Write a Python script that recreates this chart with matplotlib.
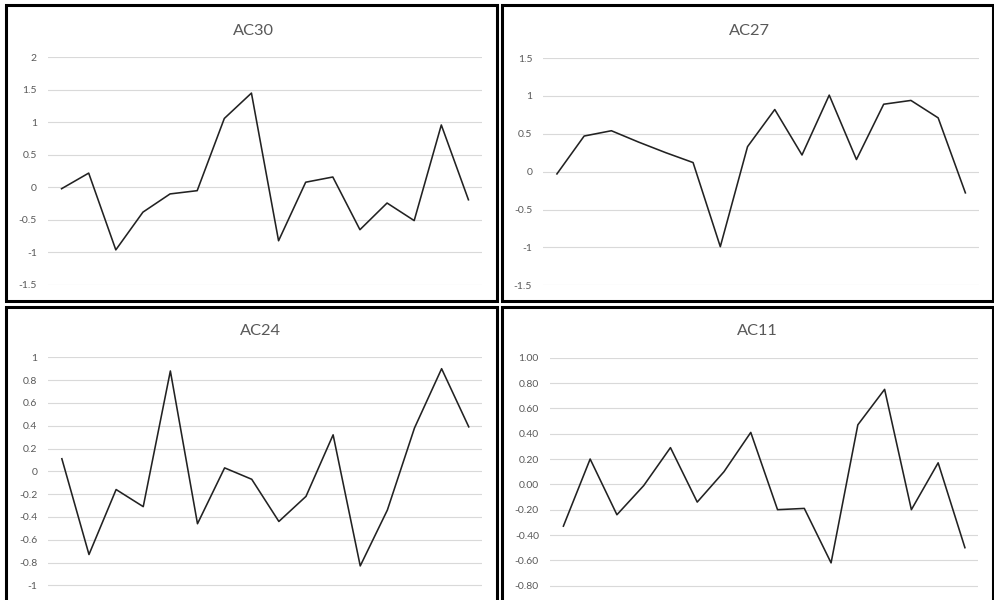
import numpy as np
import matplotlib
matplotlib.use("Agg")
import matplotlib.pyplot as plt
from matplotlib.patches import Rectangle
from matplotlib.ticker import FuncFormatter

plt.rcParams['font.family'] = ['Lato', 'DejaVu Sans']

W, H = 995, 600

# autocorrelation series, 16 lags each
ac30 = [-0.02, 0.22, -0.96, -0.38, -0.10, -0.05, 1.06, 1.45,
        -0.82, 0.08, 0.16, -0.65, -0.24, -0.51, 0.96, -0.19]
ac27 = [-0.03, 0.47, 0.54, 0.39, 0.25, 0.12, -0.99, 0.33,
        0.82, 0.22, 1.01, 0.16, 0.89, 0.94, 0.71, -0.28]
ac24 = [0.11, -0.73, -0.16, -0.31, 0.88, -0.46, 0.03, -0.07,
        -0.44, -0.22, 0.32, -0.83, -0.34, 0.38, 0.90, 0.39]
ac11 = [-0.33, 0.20, -0.24, -0.01, 0.29, -0.14, 0.10, 0.41,
        -0.20, -0.19, -0.62, 0.47, 0.75, -0.20, 0.17, -0.50]

titles = ["AC30", "AC27", "AC24", "AC11"]

GRID = "#d9d9d9"
TEXT = "#595959"

fig = plt.figure(figsize=(W / 100, H / 100), dpi=100)


def px_box(left, top, right, bottom):
    # pixel edges (from top-left corner) -> figure fraction box
    return [left / W, 1 - bottom / H, (right - left) / W, (bottom - top) / H]


def general(v, pos):
    s = f"{round(v, 2):g}"
    return "0" if s == "-0" else s


def fixed2(v, pos):
    v = round(v, 2)
    return f"{0.0 if v == 0 else v:.2f}"


def panel(frame, plot_box, title_xy, title, values, ylim, step, first_tick, fmt):
    # black chart border
    l, t, r, b = frame
    fig.patches.append(Rectangle((l / W, 1 - b / H), (r - l) / W, (b - t) / H,
                                 transform=fig.transFigure, fill=False,
                                 edgecolor="black", linewidth=2.2, zorder=5))
    ax = fig.add_axes(px_box(*plot_box))
    ax.plot(range(len(values)), values, color="#222222", linewidth=1.15)
    ax.set_xlim(-0.5, len(values) - 0.5)
    ax.set_ylim(*ylim)
    ax.set_yticks(np.arange(first_tick, ylim[1] + step / 2, step))
    ax.yaxis.set_major_formatter(FuncFormatter(fmt))
    ax.set_xticks([])
    ax.grid(axis="y", color=GRID, linewidth=0.8)
    ax.set_axisbelow(True)
    for s in ax.spines.values():
        s.set_visible(False)
    ax.tick_params(axis="y", length=0, pad=8, labelsize=7.5, labelcolor=TEXT)
    fig.text(title_xy[0] / W, 1 - title_xy[1] / H, title, ha="center",
             va="center", fontsize=11.8, color=TEXT)
    return ax


panel((6.5, 5.5, 497.5, 301.5), (48, 57.3, 482, 285), (253, 31),
      titles[0], ac30, (-1.5, 2.0), 0.5, -1.5, general)
panel((502, 5.5, 993, 301.5), (543.3, 58, 979, 285.3), (749, 31),
      titles[1], ac27, (-1.5, 1.5), 0.5, -1.5, general)
panel((6.5, 307, 497.5, 615), (48.3, 357.3, 482.3, 608.1), (260, 331),
      titles[2], ac24, (-1.2, 1.0), 0.2, -1.0, general)
panel((502, 307, 993, 615), (550, 357.7, 978.3, 611), (757, 331),
      titles[3], ac11, (-1.0, 1.0), 0.2, -0.8, fixed2)

fig.savefig("out.png", dpi=100)
